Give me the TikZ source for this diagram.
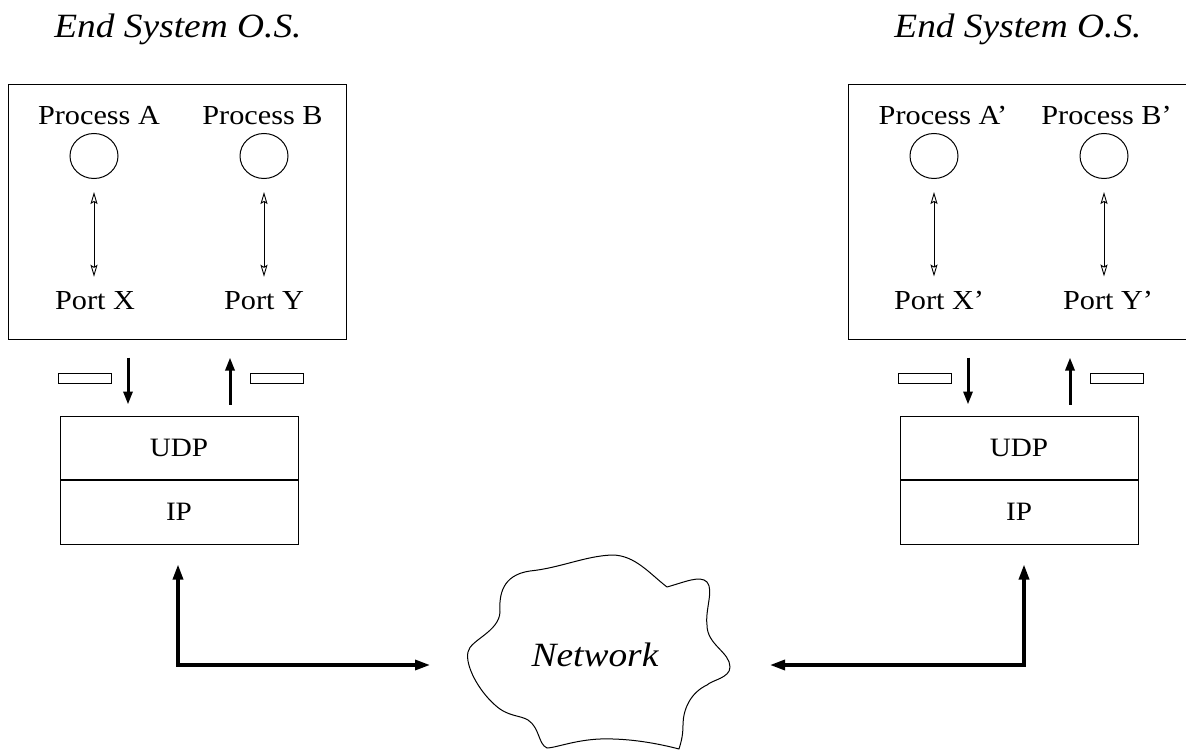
\documentclass[tikz,border=0pt]{standalone}
\usepackage{fontspec}
\setmainfont[FakeStretch=1.1]{Liberation Serif}
\usetikzlibrary{arrows.meta,shapes.geometric}
\tikzset{
  box/.style={draw, line width=1pt, inner sep=0pt, rectangle},
  proc/.style={draw, ellipse, line width=1pt, minimum width=48pt, minimum height=45pt, inner sep=0pt},
  lbl/.style={inner sep=0pt, anchor=base, font=\fontsize{27.5}{30}\selectfont},
  layer/.style={box, minimum width=238pt, font=\fontsize{26.5}{30}\selectfont},
  title/.style={inner sep=0pt, anchor=base, font=\fontsize{34}{38}\selectfont\itshape},
  dbl/.style={line width=0.9pt, {Stealth[open,length=12pt,width=7pt,inset=2pt]}-{Stealth[open,length=12pt,width=7pt,inset=2pt]}},
  big/.style={line width=3pt, -{Triangle[length=13pt,width=9pt]}},
  bigtwo/.style={line width=3.2pt, miter limit=10, {Triangle[length=15pt,width=10pt]}-{Triangle[length=15pt,width=10pt]}},
  cloud line/.style={line width=1pt, line join=round},
}
\begin{document}
\begin{tikzpicture}[x=1pt,y=-1pt]
\useasboundingbox (0,0) rectangle (1186,751);
\foreach \s/\dx/\tx/\pa/\pb/\px/\py in {L/0/0/A/B/X/Y, R/840/4/A'/B'/X'/Y'}{
  \node[title] (title\s) at (178+\dx,38) {End System O.S.};
  \node[box, minimum width=338pt, minimum height=254pt] (sys\s) at (177.5+\dx,212) {};
  \node[lbl] (tA\s) at (99+\dx+\tx,125) {Process \pa};
  \node[lbl] (tB\s) at (262.5+\dx+\tx,125) {Process \pb};
  \node[proc] (cA\s) at (94+\dx,156) {};
  \node[proc] (cB\s) at (264+\dx,156) {};
  \node[lbl] (pX\s) at (95+\dx+\tx,310) {Port \px};
  \node[lbl] (pY\s) at (264+\dx+\tx,310) {Port \py};
  \draw[dbl, shorten <=13pt, shorten >=15pt] (cA\s.south) -- (pX\s.north -| cA\s.south);
  \draw[dbl, shorten <=13pt, shorten >=15pt] (cB\s.south) -- (pY\s.north -| cB\s.south);
  \node[box, minimum width=53pt, minimum height=10pt] (pk1\s) at (84.5+\dx,378) {};
  \node[box, minimum width=53pt, minimum height=10pt] (pk2\s) at (276.5+\dx,378) {};
  \node[layer, minimum height=63pt] (udp\s) at (179+\dx,447.5) {UDP};
  \node[layer, minimum height=64pt, anchor=north] (ip\s) at (udp\s.south) {IP};
  \coordinate (dn\s) at (128+\dx,0);
  \coordinate (up\s) at (230+\dx,0);
  \draw[big, shorten <=18pt, shorten >=11pt] (sys\s.south -| dn\s) -- (udp\s.north -| dn\s);
  \draw[big, shorten <=11pt, shorten >=18pt] (udp\s.north -| up\s) -- (sys\s.south -| up\s);
}
% network cloud
\draw[cloud line] (500,612)
  .. controls (499,595) and (502,575) .. (530,571)
  .. controls (560,568) and (585,556) .. (612,555)
  .. controls (635,555) and (650,574) .. (667,587)
  .. controls (685,582) and (700,575) .. (707,582)
  .. controls (714,590) and (705,610) .. (707,625)
  .. controls (707,645) and (730,652) .. (730,667)
  .. controls (730,678) and (712,680) .. (707,685)
  .. controls (690,693) and (683,710) .. (683,725)
  .. controls (683,738) and (680,745) .. (679,749)
  .. controls (660,744) and (630,738) .. (600,739)
  .. controls (575,740) and (555,748) .. (547,748)
  .. controls (538,744) and (540,728) .. (528,720)
  .. controls (520,715) and (508,717) .. (495,705)
  .. controls (478,690) and (465,665) .. (468,652)
  .. controls (470,640) and (499,632) .. (500,612) -- cycle;
\node[inner sep=0pt, anchor=base, font=\fontsize{34}{38}\selectfont\itshape] (net) at (595,666) {Network};
% links to network
\coordinate (cnL) at (178,665);
\coordinate (cnR) at (1024,665);
\coordinate (inL) at (430,665);
\coordinate (inR) at (770,665);
\draw[bigtwo, shorten <=20pt] (ipL.south -| cnL) -- (cnL) -- (inL);
\draw[bigtwo, shorten <=20pt] (ipR.south -| cnR) -- (cnR) -- (inR);
\end{tikzpicture}
\end{document}
